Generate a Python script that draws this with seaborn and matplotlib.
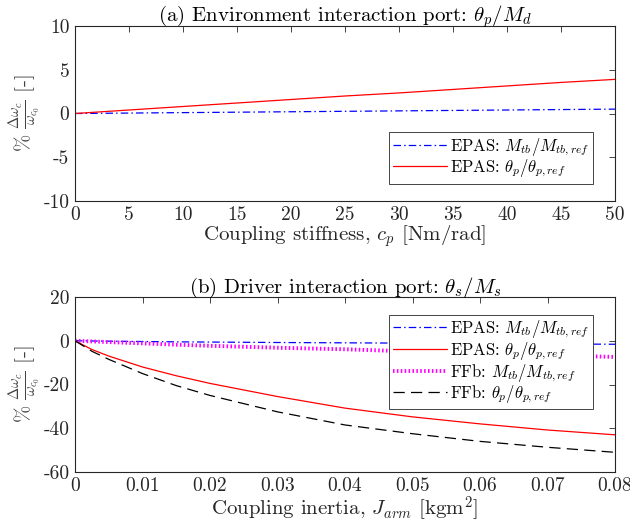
import matplotlib
matplotlib.use("Agg")
import matplotlib.pyplot as plt
import seaborn as sns
import pandas as pd

# ---- data ----
# (a) environment interaction port
cp = [0, 5, 10, 15, 20, 25, 30, 35, 40, 45, 50]
epas_mtb_a = [0, 0.05, 0.1, 0.15, 0.2, 0.25, 0.3, 0.35, 0.4, 0.45, 0.5]
epas_thp_a = [0, 0.4, 0.8, 1.2, 1.6, 2.0, 2.35, 2.75, 3.15, 3.55, 3.9]

# (b) driver interaction port
jarm = [0, 0.0025, 0.005, 0.01, 0.015, 0.02, 0.03, 0.04, 0.05, 0.06, 0.07, 0.08]
epas_mtb_b = [0, -0.1, -0.2, -0.35, -0.5, -0.6, -0.8, -0.95, -1.1, -1.3, -1.45, -1.6]
epas_thp_b = [0, -4.0, -7.0, -12.0, -16.0, -19.5, -25.5, -30.8, -34.8, -38.0, -40.8, -43.0]
ffb_mtb_b = [0, -0.3, -0.6, -1.2, -1.8, -2.3, -3.2, -3.9, -4.9, -5.8, -6.6, -7.4]
ffb_thp_b = [0, -4.8, -8.5, -15.0, -20.5, -25.0, -32.5, -38.5, -42.5, -46.0, -48.7, -51.0]

sns.set_theme(style="white")
plt.rcParams.update({
    "font.family": ["cmr10", "DejaVu Serif"],
    "mathtext.fontset": "cm",
    "axes.unicode_minus": False,
    "axes.formatter.use_mathtext": True,
    "axes.edgecolor": "#262626",
    "axes.linewidth": 0.8,
    "xtick.color": "#262626",
    "ytick.color": "#262626",
    "text.color": "#000000",
})

fig = plt.figure(figsize=(6.3, 5.31), dpi=100)
ax1 = fig.add_axes([75 / 630, 1 - 201 / 531, 540 / 630, 175 / 531])
ax2 = fig.add_axes([75 / 630, 1 - 472 / 531, 540 / 630, 175 / 531])

dash_dot = (0, (6, 2.5, 1.2, 2.5))

da = pd.DataFrame({"x": cp, "mtb": epas_mtb_a, "thp": epas_thp_a})
sns.lineplot(data=da, x="x", y="mtb", ax=ax1, color="blue", lw=0.9,
             linestyle=dash_dot, label=r"EPAS: $M_{tb}/M_{tb,ref}$")
sns.lineplot(data=da, x="x", y="thp", ax=ax1, color="red", lw=0.9,
             label=r"EPAS: $\theta_p/\theta_{p,ref}$")

db = pd.DataFrame({"x": jarm, "em": epas_mtb_b, "et": epas_thp_b,
                   "fm": ffb_mtb_b, "ft": ffb_thp_b})
sns.lineplot(data=db, x="x", y="em", ax=ax2, color="blue", lw=0.9,
             linestyle=dash_dot, label=r"EPAS: $M_{tb}/M_{tb,ref}$")
sns.lineplot(data=db, x="x", y="et", ax=ax2, color="red", lw=0.9,
             label=r"EPAS: $\theta_p/\theta_{p,ref}$")
sns.lineplot(data=db, x="x", y="fm", ax=ax2, color="magenta", lw=2.8,
             linestyle=(0, (0.4, 0.6)), label=r"FFb: $M_{tb}/M_{tb,ref}$")
sns.lineplot(data=db, x="x", y="ft", ax=ax2, color="black", lw=0.9,
             linestyle=(0, (9, 5)), label=r"FFb: $\theta_p/\theta_{p,ref}$")

ylab = r"$\%\ \frac{\Delta\omega_c}{\omega_{c_0}}$ [-]"

ax1.set_xlim(0, 50)
ax1.set_ylim(-10, 10)
ax1.set_xticks(range(0, 51, 5))
ax1.set_xticklabels([str(v) for v in range(0, 51, 5)])
ax1.set_yticks([-10, -5, 0, 5, 10])
ax1.set_yticklabels(["-10", "-5", "0", "5", "10"])
ax1.set_title(r"(a) Environment interaction port: $\theta_p/M_d$",
              fontsize=15, pad=3)
ax1.set_xlabel(r"Coupling stiffness, $c_p$ [Nm/rad]", fontsize=15, labelpad=-1)
ax1.set_ylabel(ylab, fontsize=15, labelpad=0, color="#404040")

xt = [0, 0.01, 0.02, 0.03, 0.04, 0.05, 0.06, 0.07, 0.08]
ax2.set_xlim(0, 0.08)
ax2.set_ylim(-60, 20)
ax2.set_xticks(xt)
ax2.set_xticklabels(["0"] + [f"{v:.2f}" for v in xt[1:]])
ax2.set_yticks([-60, -40, -20, 0, 20])
ax2.set_yticklabels(["-60", "-40", "-20", "0", "20"])
ax2.set_title(r"(b) Driver interaction port: $\theta_s/M_s$",
              fontsize=15, pad=3)
ax2.set_xlabel(r"Coupling inertia, $J_{arm}$ [kgm$^2$]", fontsize=15, labelpad=-1)
ax2.set_ylabel(ylab, fontsize=15, labelpad=0, color="#404040")

for ax in (ax1, ax2):
    ax.tick_params(direction="in", top=True, right=True, length=4,
                   width=0.6, labelsize=14, pad=4)
    for s in ax.spines.values():
        s.set_visible(True)

common = dict(fontsize=12, frameon=True, fancybox=False, framealpha=1,
              edgecolor="#262626", handlelength=3.2, borderpad=0.25,
              labelspacing=0.02, handletextpad=0.2, borderaxespad=0)
leg1 = ax1.legend(loc="lower right", bbox_to_anchor=(0.96, 0.1), **common)
leg2 = ax2.legend(loc="upper right", bbox_to_anchor=(0.96, 0.9), **common)
for leg in (leg1, leg2):
    leg.get_frame().set_linewidth(0.6)

fig.savefig("out.png", dpi=100)
